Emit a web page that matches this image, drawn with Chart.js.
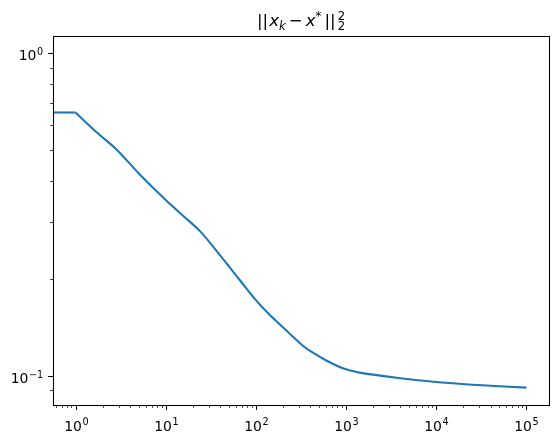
<!DOCTYPE html>
<html>
<head>
<meta charset="utf-8">
<script src="https://cdn.jsdelivr.net/npm/chart.js@4.4.0/dist/chart.umd.min.js"></script>
<style>
  html, body { margin: 0; padding: 0; background: #fff; }
  #wrap { width: 558px; height: 443px; }
</style>
</head>
<body>
<div id="wrap"><canvas id="grafico" width="558" height="443"></canvas></div>
<script>
// iteracion k (k = 0 queda en el borde izquierdo del eje log)
const iteraciones = [0, 1, 1.7, 2.9, 5, 10, 16, 24, 36, 51, 71, 100, 141, 182, 236, 329, 424, 603, 847, 1000, 1400, 4000, 10000, 32000, 100000];
// ||x_k - x*||_2^2
const errores = [0.654, 0.654, 0.569, 0.500, 0.424, 0.350, 0.311, 0.2805, 0.245, 0.217, 0.193, 0.1715, 0.1546, 0.1446, 0.1351, 0.1240, 0.1180, 0.1114, 0.1064, 0.1046, 0.1022, 0.0982, 0.0956, 0.0934, 0.0918];

const limitesX = [0.5623, 177828];
const limitesY = [0.0811, 1.129];

const FUENTE = '"DejaVu Sans", "Liberation Sans", sans-serif';

// ticks mayores (10^n) y menores (m*10^n) dentro del rango
function ticksLog(min, max) {
    const out = [];
    for (let e = Math.floor(Math.log10(min)); e <= Math.ceil(Math.log10(max)); e++) {
        for (let m = 1; m <= 9; m++) {
            const v = m * Math.pow(10, e);
            if (v >= min && v <= max) out.push({ value: v, major: m === 1, exp: e });
        }
    }
    return out;
}

// "10" con el exponente en superindice, como mathtext
function etiqueta(ctx, exp, x, base, align) {
    const fb = '13.9px ' + FUENTE, fs = '9.7px ' + FUENTE;
    const sup = String(exp).replace('-', '−');
    ctx.font = fb;
    const wb = ctx.measureText('10').width;
    ctx.font = fs;
    const ws = ctx.measureText(sup).width;
    const w = wb + 0.6 + ws;
    const x0 = align === 'center' ? x - w / 2 : x - w;
    ctx.font = fb;
    ctx.fillText('10', x0, base);
    ctx.font = fs;
    ctx.fillText(sup, x0 + wb + 0.6, base - 5.3);
}

// marco, marcas de los ejes, etiquetas y titulo al estilo matplotlib
const marcoPlugin = {
    id: 'marco',
    afterDraw(chart) {
        const { ctx, chartArea: a, scales: { x, y } } = chart;
        ctx.save();
        ctx.strokeStyle = '#000';
        ctx.fillStyle = '#000';
        ctx.textBaseline = 'alphabetic';
        ctx.textAlign = 'left';
        x.ticks.forEach(t => {
            const px = Math.round(x.getPixelForValue(t.value)) + 0.5;
            ctx.lineWidth = t.major ? 1.07 : 0.8;
            ctx.beginPath();
            ctx.moveTo(px, a.bottom);
            ctx.lineTo(px, a.bottom + (t.major ? 4.9 : 2.8));
            ctx.stroke();
            if (t.major) etiqueta(ctx, t.exp, px, a.bottom + 25.5, 'center');
        });
        y.ticks.forEach(t => {
            const py = Math.round(y.getPixelForValue(t.value)) + 0.5;
            ctx.lineWidth = t.major ? 1.07 : 0.8;
            ctx.beginPath();
            ctx.moveTo(a.left, py);
            ctx.lineTo(a.left - (t.major ? 4.9 : 2.8), py);
            ctx.stroke();
            if (t.major) etiqueta(ctx, t.exp, a.left - 9.8, py + 6.5, 'right');
        });
        ctx.lineWidth = 1.07;
        ctx.strokeRect(Math.round(a.left) + 0.5, Math.round(a.top) + 0.5,
            Math.round(a.right - a.left), Math.round(a.bottom - a.top));

        // titulo ||x_k - x^*||_2^2
        const fn = '16.67px ' + FUENTE, fi = 'italic 16.67px ' + FUENTE;
        const fs = '11.7px ' + FUENTE, fsi = 'italic 11.7px ' + FUENTE;
        const partes = [
            { t: '||', f: fn },
            { t: 'x', f: fi, pre: 1 },
            { t: 'k', f: fsi, dy: 3.5 },
            { t: '−', f: fn, pre: 3, post: 3 },
            { t: 'x', f: fi },
            { t: '*', f: fs, dy: -6.5 },
            { t: '||', f: fn, pre: 3 },
            { t: '2', f: fs, dy: -6.5, pre: 2, stack: true },
            { t: '2', f: fs, dy: 3.5 }
        ];
        let total = 0;
        partes.forEach(p => {
            ctx.font = p.f;
            p.w = ctx.measureText(p.t).width;
            total += (p.pre || 0) + (p.stack ? 0 : p.w) + (p.post || 0);
        });
        let cx = (a.left + a.right) / 2 - total / 2;
        partes.forEach(p => {
            cx += p.pre || 0;
            ctx.font = p.f;
            ctx.fillText(p.t, cx, 26 + (p.dy || 0));
            if (!p.stack) cx += p.w;
            cx += p.post || 0;
        });
        ctx.restore();
    }
};

// tramo plano k = 0..1 y tramo de descenso (suavizado) por separado
const puntos = iteraciones.map((k, i) => ({ x: k, y: errores[i] }));
const estiloLinea = { borderColor: '#1f77b4', borderWidth: 2.1, pointRadius: 0, fill: false, borderCapStyle: 'butt' };

const ctx = document.getElementById('grafico').getContext('2d');
window.grafico = new Chart(ctx, {
    type: 'line',
    data: {
        datasets: [
            { ...estiloLinea, data: puntos.slice(0, 2), tension: 0 },
            { ...estiloLinea, data: puntos.slice(1), tension: 0.3 }
        ]
    },
    options: {
        responsive: false,
        devicePixelRatio: 1,
        animation: false,
        layout: { padding: { top: 36, right: 9, left: 0, bottom: 0 } },
        plugins: { legend: { display: false }, tooltip: { enabled: false }, title: { display: false } },
        scales: {
            x: {
                type: 'logarithmic',
                min: limitesX[0],
                max: limitesX[1],
                grid: { display: false, drawTicks: false },
                border: { display: false },
                ticks: { display: false },
                afterBuildTicks: s => { s.ticks = ticksLog(limitesX[0], limitesX[1]); },
                afterFit: s => { s.height = 38; }
            },
            y: {
                type: 'logarithmic',
                min: limitesY[0],
                max: limitesY[1],
                grid: { display: false, drawTicks: false },
                border: { display: false },
                ticks: { display: false },
                afterBuildTicks: s => { s.ticks = ticksLog(limitesY[0], limitesY[1]); },
                afterFit: s => { s.width = 53; }
            }
        }
    },
    plugins: [marcoPlugin]
});
</script>
</body>
</html>
